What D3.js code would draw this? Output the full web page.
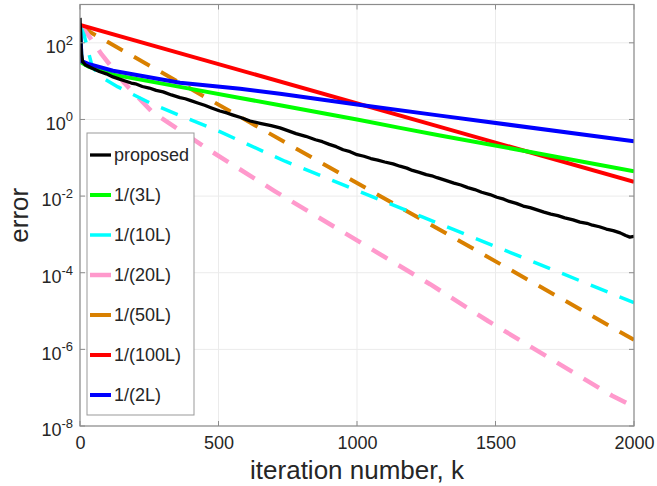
<!DOCTYPE html>
<html>
<head>
<meta charset="utf-8">
<script src="https://cdn.jsdelivr.net/npm/d3@7"></script>
<style>
  body { margin: 0; background: #fff; }
  text { font-family: "Liberation Sans", Arial, sans-serif; fill: #262626; }
</style>
</head>
<body>
<div id="chart"></div>
<script>
// error curves, stored as [iteration, log10(error)]
var proposed = [[0,2.65],[2,2.2],[5,1.7],[10,1.5],[20,1.42],[40,1.35],[70,1.25],[95,1.19],[119,1.11],[140,1.06],[160,1.01],[185,0.95],[200,0.93],[225,0.86],[250,0.82],[275,0.76],[300,0.72],[330,0.64],[361,0.57],[380,0.54],[400,0.49],[425,0.43],[450,0.37],[475,0.30],[505,0.22],[530,0.17],[550,0.12],[580,0.05],[614,-0.04],[650,-0.10],[690,-0.16],[722,-0.22],[750,-0.29],[780,-0.37],[815,-0.44],[850,-0.53],[875,-0.58],[900,-0.65],[925,-0.71],[950,-0.79],[975,-0.84],[1000,-0.92],[1025,-0.96],[1050,-1.02],[1075,-1.06],[1100,-1.11],[1130,-1.16],[1155,-1.22],[1180,-1.27],[1200,-1.33],[1225,-1.38],[1250,-1.44],[1270,-1.47],[1289,-1.52],[1320,-1.59],[1350,-1.66],[1375,-1.71],[1400,-1.78],[1425,-1.83],[1450,-1.90],[1480,-1.96],[1505,-2.03],[1530,-2.08],[1550,-2.14],[1575,-2.19],[1600,-2.26],[1625,-2.30],[1650,-2.36],[1675,-2.42],[1700,-2.47],[1725,-2.51],[1750,-2.57],[1780,-2.62],[1805,-2.68],[1830,-2.71],[1850,-2.76],[1875,-2.80],[1900,-2.86],[1925,-2.90],[1950,-2.96],[1970,-3.03],[1985,-3.07],[2000,-3.05]];
var step3L = [[0,2.45],[6,1.48],[30,1.38],[119,1.17],[361,0.85],[578,0.56],[722,0.37],[1000,0.0],[1155,-0.22],[1300,-0.42],[1650,-0.88],[2000,-1.35]];
var step10L = [[0,2.45],[15,2.2],[45,1.35],[90,1.05],[137,0.85],[264,0.39],[505,-0.32],[740,-1.09],[1238,-2.55],[2000,-4.78]];
var step20L = [[0,2.45],[25,2.25],[79,1.69],[160,0.95],[260,0.2],[480,-0.86],[704,-1.875],[1264,-4.30],[1473,-5.26],[1921,-7.21],[2000,-7.5]];
var step50L = [[0,2.43],[1155,-2.29],[2000,-5.75]];
var step100L = [[0,2.47],[2000,-1.63]];
var step2L = [[0,2.45],[6,1.52],[30,1.45],[119,1.27],[361,0.96],[578,0.80],[722,0.67],[1000,0.39],[1300,0.10],[2000,-0.57]];

var seriesNames = ["proposed", "1/(3L)", "1/(10L)", "1/(20L)", "1/(50L)", "1/(100L)", "1/(2L)"];
var seriesData = [proposed, step3L, step10L, step20L, step50L, step100L, step2L];
var seriesColors = ["#000000", "#00ff00", "#00ffff", "#ff99cc", "#d98000", "#ff0000", "#0000ff"];
var seriesWidths = [3.3, 4, 3.5, 4.5, 4, 4, 4];
var seriesDashed = [false, false, true, true, true, false, false];

var xTicks = [0, 500, 1000, 1500, 2000];
var yTickExps = [-8, -6, -4, -2, 0, 2];

var W = 657, H = 486;
var margin = {left: 80, top: 4.5, right: 23, bottom: 60};
var width = W - margin.left - margin.right;
var height = H - margin.top - margin.bottom;

var svg = d3.select('#chart').append('svg')
    .attr('width', W)
    .attr('height', H);

var x = d3.scaleLinear().domain([0, 2000]).range([0, width]);
var y = d3.scaleLog().domain([1e-8, 1e3]).range([height, 0]);

var g = svg.append('g')
    .attr('transform', 'translate(' + margin.left + ',' + margin.top + ')');

// grid
g.selectAll('.xgrid').data(xTicks).enter().append('line')
    .attr('x1', d => x(d)).attr('x2', d => x(d))
    .attr('y1', 0).attr('y2', height)
    .attr('stroke', '#ebebeb').attr('stroke-width', 1);
g.selectAll('.ygrid').data(yTickExps).enter().append('line')
    .attr('x1', 0).attr('x2', width)
    .attr('y1', d => y(Math.pow(10, d))).attr('y2', d => y(Math.pow(10, d)))
    .attr('stroke', '#ebebeb').attr('stroke-width', 1);

// curves
g.append('clipPath').attr('id', 'clip')
    .append('rect').attr('width', width).attr('height', height);

var line = d3.line()
    .x(d => x(d[0]))
    .y(d => y(Math.pow(10, d[1])));

var plot = g.append('g').attr('clip-path', 'url(#clip)');
var order = [4, 3, 2, 5, 1, 6, 0];
order.forEach(function (i) {
    plot.append('path')
        .datum(seriesData[i])
        .attr('d', line)
        .attr('fill', 'none')
        .attr('stroke', seriesColors[i])
        .attr('stroke-width', seriesWidths[i])
        .attr('stroke-linejoin', 'round')
        .attr('stroke-dasharray', seriesDashed[i] ? '18,13' : null);
});

// axes
var xAxis = d3.axisBottom(x).tickValues(xTicks).tickSize(0).tickPadding(10).tickFormat(d3.format('d'));
var gx = g.append('g').attr('transform', 'translate(0,' + height + ')').call(xAxis);
gx.select('.domain').remove();
gx.selectAll('text').attr('font-size', '18px').attr('fill', '#262626');

var yAxis = d3.axisLeft(y).tickValues(yTickExps.map(e => Math.pow(10, e))).tickSize(0).tickPadding(8).tickFormat('');
var gy = g.append('g').call(yAxis);
gy.select('.domain').remove();
gy.selectAll('.tick').each(function (d) {
    var t = d3.select(this).append('text')
        .attr('x', -7).attr('dy', '0.55em')
        .attr('text-anchor', 'end')
        .attr('font-size', '18px');
    t.append('tspan').text('10');
    t.append('tspan').attr('dy', '-0.65em').attr('font-size', '13px').text(Math.round(Math.log10(d)));
});

// tick marks inside the box, both sides
var tl = 5;
xTicks.forEach(function (d) {
    g.append('line').attr('x1', x(d)).attr('x2', x(d)).attr('y1', height).attr('y2', height - tl).attr('stroke', '#8c8c8c');
    g.append('line').attr('x1', x(d)).attr('x2', x(d)).attr('y1', 0).attr('y2', tl).attr('stroke', '#8c8c8c');
});
yTickExps.forEach(function (e) {
    var yy = y(Math.pow(10, e));
    g.append('line').attr('x1', 0).attr('x2', tl).attr('y1', yy).attr('y2', yy).attr('stroke', '#8c8c8c');
    g.append('line').attr('x1', width).attr('x2', width - tl).attr('y1', yy).attr('y2', yy).attr('stroke', '#8c8c8c');
});

g.append('rect')
    .attr('width', width).attr('height', height)
    .attr('fill', 'none').attr('stroke', '#8c8c8c').attr('stroke-width', 1.2);

// axis labels
svg.append('text')
    .attr('x', margin.left + width / 2).attr('y', 479)
    .attr('text-anchor', 'middle').attr('font-size', '26px')
    .text('iteration number, k');

svg.append('text')
    .attr('transform', 'translate(28,' + (margin.top + height / 2) + ') rotate(-90)')
    .attr('text-anchor', 'middle').attr('font-size', '26px')
    .text('error');

// legend
var legend = svg.append('g').attr('transform', 'translate(87,133)');
legend.append('rect')
    .attr('width', 107).attr('height', 282)
    .attr('fill', '#fff').attr('stroke', '#999').attr('stroke-width', 1);

var entry = legend.selectAll('.entry').data(seriesNames).enter().append('g')
    .attr('transform', function (d, i) { return 'translate(0,' + (22 + i * 40) + ')'; });
entry.append('line')
    .attr('x1', 3).attr('x2', 24)
    .attr('stroke', (d, i) => seriesColors[i])
    .attr('stroke-width', (d, i) => seriesWidths[i]);
entry.append('text')
    .attr('x', 27).attr('dy', '0.35em')
    .attr('font-size', '18px')
    .text(d => d);
</script>
</body>
</html>
